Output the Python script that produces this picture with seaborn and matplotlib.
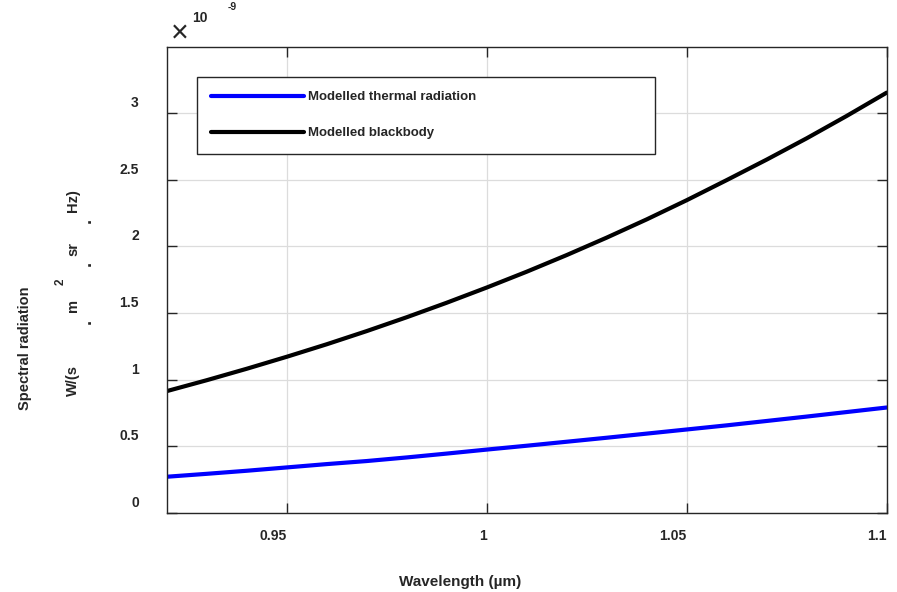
import numpy as np
import pandas as pd
import matplotlib
matplotlib.use('Agg')
import matplotlib.pyplot as plt
import matplotlib.transforms as mtransforms
import seaborn as sns

# wavelength in um, radiation in units of 1e-9 W/(s m^2 sr Hz)
wavelength = [0.92, 0.93, 0.94, 0.95, 0.96, 0.97, 0.98, 0.99, 1.00, 1.01,
              1.02, 1.03, 1.04, 1.05, 1.06, 1.07, 1.08, 1.09, 1.10]
thermal = [0.270, 0.292, 0.315, 0.340, 0.365, 0.388, 0.415, 0.444, 0.474, 0.503,
           0.533, 0.563, 0.594, 0.625, 0.656, 0.689, 0.722, 0.756, 0.790]
blackbody = [0.913, 0.995, 1.081, 1.171, 1.265, 1.364, 1.468, 1.577, 1.691, 1.810,
             1.935, 2.066, 2.203, 2.347, 2.498, 2.652, 2.812, 2.980, 3.155]
series_names = ['Modelled thermal radiation', 'Modelled blackbody']
series_colors = ['#0000ff', '#000000']
xticks = [0.95, 1.0, 1.05, 1.1]
xtick_labels = ['0.95', '1', '1.05', '1.1']
yticks = [0, 0.5, 1, 1.5, 2, 2.5, 3]
ytick_labels = ['0', '0.5', '1', '1.5', '2', '2.5', '3']

df = pd.DataFrame({
    'wavelength': wavelength * 2,
    'value': thermal + blackbody,
    'series': [series_names[0]] * len(thermal) + [series_names[1]] * len(blackbody),
})

sns.set_style('white')
plt.rcParams['font.family'] = ['Liberation Sans', 'DejaVu Sans']
plt.rcParams['font.weight'] = 'bold'

fig = plt.figure(figsize=(8.97, 5.92), dpi=100)
ax = fig.add_axes([166.7 / 897, (592 - 512.7) / 592, 720 / 897, 466 / 592])

sns.lineplot(data=df, x='wavelength', y='value', hue='series', hue_order=series_names,
             palette=series_colors, linewidth=3, ax=ax, legend=False)

ax.set_xlim(0.92, 1.1)
ax.set_ylim(0, 3.5)
ax.set_xticks(xticks)
ax.set_xticklabels(xtick_labels, fontsize=10, fontweight='bold', color='#262626', ha='right')
ax.set_yticks(yticks)
ax.set_yticklabels(ytick_labels, fontsize=10, fontweight='bold', color='#262626', va='bottom')
ax.tick_params(axis='x', direction='in', length=7, width=1, top=True, bottom=True, pad=12, color='#262626')
ax.tick_params(axis='y', direction='in', length=7, width=1, left=True, right=True, pad=20, color='#262626')
ax.grid(True, color='#dcdcdc', linewidth=0.9)
for s in ax.spines.values():
    s.set_visible(True)
    s.set_color('#262626')
    s.set_linewidth(1.0)

# nudge y tick labels to sit just above the tick like the original
off = mtransforms.ScaledTranslation(0, 3 / 100, fig.dpi_scale_trans)
for lbl in ax.get_yticklabels():
    lbl.set_transform(lbl.get_transform() + off)

ax.set_xlabel('')
ax.set_ylabel('')
txt = dict(fontweight='bold', color='#262626', ha='center', va='center')
fig.text(460 / 897, 1 - 582 / 592, 'Wavelength (µm)', fontsize=11, **txt)
fig.text(25 / 897, 1 - 348 / 592, 'Spectral radiation', rotation=90, fontsize=10.5, **txt)

# second y label line, broken up the same way as in the original
unit_parts = [('W/(s', 73, 380, 10.5), ('m', 73, 305, 10.5), ('2', 61, 282, 8.5),
              ('sr', 73, 249, 10.5), ('Hz)', 73, 201, 10.5)]
for s, px, py, fs in unit_parts:
    fig.text(px / 897, 1 - py / 592, s, rotation=90, fontsize=fs, **txt)
for py in [321, 263, 220]:
    fig.text(86 / 897, 1 - py / 592, '.', rotation=90, fontsize=13, **txt)

# exponent label
fig.text(180 / 897, 1 - 34 / 592, '×', ha='center', va='center', fontsize=22,
         fontweight='normal', color='#262626')
fig.text(200 / 897, 1 - 18 / 592, '10', fontsize=10, **txt)
fig.text(232 / 897, 1 - 7 / 592, '-9', fontsize=7.5, **txt)

leg = ax.legend(handles=ax.get_lines()[:2], labels=series_names, loc='upper left',
                bbox_to_anchor=(0.0417, 0.7676, 0.636, 0.168), mode='expand',
                fontsize=9.5, frameon=True, fancybox=False, framealpha=1,
                handlelength=7.0, handletextpad=0.3, borderpad=1.1, labelspacing=1.8,
                borderaxespad=0)
leg.get_frame().set_edgecolor('#262626')
leg.get_frame().set_linewidth(1.0)
for t in leg.get_texts():
    t.set_fontweight('bold')

fig.savefig('out.png', dpi=100)
